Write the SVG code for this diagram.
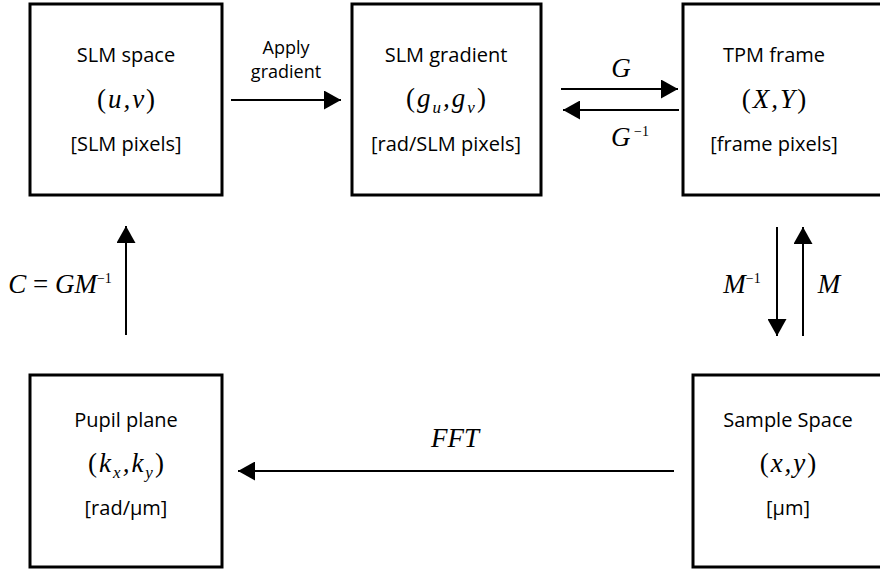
<svg xmlns="http://www.w3.org/2000/svg" width="880" height="570" viewBox="0 0 880 570">
<style>
.box{fill:#fff;stroke:#000;stroke-width:3}
.lbl{font-family:"Open Sans","Noto Sans",sans-serif;font-size:20px;fill:#000;text-anchor:middle}
.sm{font-size:18px}
.math{font-family:"Liberation Serif","DejaVu Serif",serif;font-style:italic;font-size:27px;fill:#000;text-anchor:middle}
.sp{letter-spacing:2px}
.up{font-style:normal}
.edge{stroke:#000;stroke-width:2;fill:none}
</style>
<defs>
<marker id="ah" viewBox="0 0 17 19" refX="17" refY="9.5" markerWidth="17" markerHeight="19" markerUnits="userSpaceOnUse" orient="auto">
<path d="M0,0 L17,9.5 L0,19 Z" fill="#000"/>
</marker>
</defs>
<g id="slm-space">
<rect class="box" x="30" y="4" width="192" height="191"/>
<text class="lbl" x="126" y="62">SLM space</text>
<text class="math sp" x="127" y="108"><tspan class="up">(</tspan>u,v<tspan class="up">)</tspan></text>
<text class="lbl" x="126" y="151">[SLM pixels]</text>
</g>
<g id="slm-gradient">
<rect class="box" x="352" y="4" width="189" height="191"/>
<text class="lbl" x="446" y="62">SLM gradient</text>
<text class="math sp" x="447" y="107"><tspan class="up">(</tspan>g<tspan font-size="17" dy="6">u</tspan><tspan dy="-6">,g</tspan><tspan font-size="17" dy="6">v</tspan><tspan class="up" dy="-6">)</tspan></text>
<text class="lbl" x="446" y="151">[rad/SLM pixels]</text>
</g>
<g id="tpm-frame">
<rect class="box" x="683" y="4" width="210" height="191"/>
<text class="lbl" x="774" y="62">TPM frame</text>
<text class="math sp" x="775" y="108" font-size="22"><tspan class="up" font-size="27">(</tspan>X,Y<tspan class="up" font-size="27">)</tspan></text>
<text class="lbl" x="774" y="151">[frame pixels]</text>
</g>
<g id="pupil-plane">
<rect class="box" x="30" y="375" width="192" height="192"/>
<text class="lbl" x="126" y="427">Pupil plane</text>
<text class="math sp" x="127" y="472"><tspan class="up">(</tspan>k<tspan font-size="17" dy="6">x</tspan><tspan dy="-6">,k</tspan><tspan font-size="17" dy="6">y</tspan><tspan class="up" dy="-6">)</tspan></text>
<text class="lbl" x="126" y="515">[rad/µm]</text>
</g>
<g id="sample-space">
<rect class="box" x="693" y="375" width="200" height="192"/>
<text class="lbl" x="788" y="427">Sample Space</text>
<text class="math sp" x="789" y="472"><tspan class="up">(</tspan>x,y<tspan class="up">)</tspan></text>
<text class="lbl" x="788" y="515">[µm]</text>
</g>
<g id="connectors">
<line class="edge" x1="231" y1="100" x2="341" y2="100" marker-end="url(#ah)"/>
<text class="lbl sm" x="286" y="54">Apply</text>
<text class="lbl sm" x="286" y="78">gradient</text>
<line class="edge" x1="561" y1="89" x2="678" y2="89" marker-end="url(#ah)"/>
<line class="edge" x1="679" y1="110" x2="563" y2="110" marker-end="url(#ah)"/>
<text class="math" x="621" y="77" font-size="25">G</text>
<text class="math" x="630" y="146" font-size="25">G<tspan font-size="14" font-style="normal" dy="-10"> −1</tspan></text>
<line class="edge" x1="126" y1="335" x2="126" y2="226" marker-end="url(#ah)"/>
<text class="math" x="60" y="293" font-size="25">C <tspan class="up">=</tspan> GM<tspan font-size="14" font-style="normal" dy="-10">−1</tspan></text>
<line class="edge" x1="777" y1="227" x2="777" y2="336" marker-end="url(#ah)"/>
<line class="edge" x1="803" y1="336" x2="803" y2="227" marker-end="url(#ah)"/>
<text class="math" x="742" y="293" font-size="25">M<tspan font-size="14" font-style="normal" dy="-10">−1</tspan></text>
<text class="math" x="829" y="293" font-size="25">M</text>
<line class="edge" x1="674" y1="471" x2="238" y2="471" marker-end="url(#ah)"/>
<text class="math" x="455" y="447" font-size="25">FFT</text>
</g>
</svg>
